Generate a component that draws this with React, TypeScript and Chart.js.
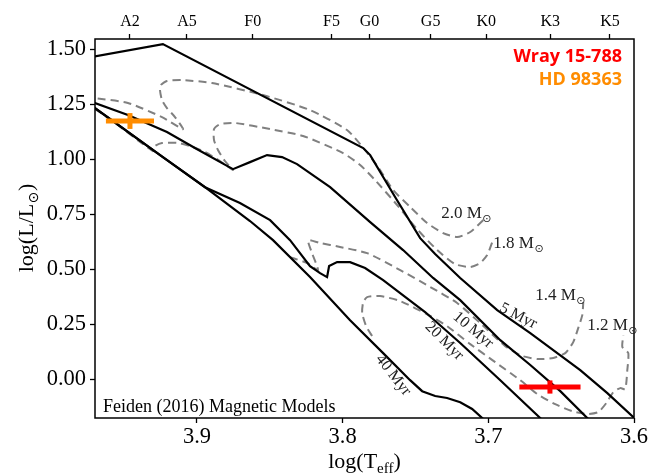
import React, { useEffect, useRef } from 'react';
import { Chart, registerables } from 'chart.js';

Chart.register(...registerables);

// ---------------- axes ----------------
const xMin = 3.6;
const xMax = 3.97;
const yMin = -0.177;
const yMax = 1.547;
const xTicks = [3.9, 3.8, 3.7, 3.6];
const yTicks = [0, 0.25, 0.5, 0.75, 1.0, 1.25, 1.5];
const spectralTypes = ['A2', 'A5', 'F0', 'F5', 'G0', 'G5', 'K0', 'K3', 'K5'];
const spectralLogTeff = [3.946, 3.9069, 3.8617, 3.8077, 3.7816, 3.7396, 3.7014, 3.6575, 3.6165];

// ---------------- isochrones (solid) ----------------
const iso5LogT = [3.977, 3.9234, 3.7859, 3.7811, 3.764, 3.7468, 3.7365, 3.7193, 3.6939, 3.6712, 3.6369, 3.6183, 3.5998, 3.5957];
const iso5LogL = [1.46, 1.524, 1.051, 1.019, 0.828, 0.641, 0.569, 0.46, 0.314, 0.209, 0.041, -0.064, -0.177, -0.2];

const iso10LogT = [3.977, 3.97, 3.9474, 3.9206, 3.9014, 3.8753, 3.8636, 3.8519, 3.8416, 3.8313, 3.8086, 3.7811, 3.7585, 3.7379, 3.7193, 3.6918, 3.6712, 3.6506, 3.6321, 3.6286];
const iso10LogL = [1.272, 1.256, 1.201, 1.124, 1.051, 0.955, 0.987, 1.019, 1.01, 0.978, 0.873, 0.714, 0.587, 0.46, 0.359, 0.177, 0.064, -0.055, -0.177, -0.2];

const iso20LogT = [3.977, 3.9234, 3.8945, 3.8705, 3.8498, 3.8361, 3.8224, 3.8155, 3.8107, 3.8093, 3.8038, 3.7949, 3.7846, 3.7722, 3.7434, 3.7193, 3.6918, 3.6644, 3.6609];
const iso20LogL = [1.266, 1.01, 0.873, 0.801, 0.723, 0.632, 0.514, 0.482, 0.464, 0.514, 0.532, 0.532, 0.505, 0.45, 0.305, 0.164, -0.005, -0.177, -0.2];

const iso40LogT = [3.977, 3.9234, 3.8945, 3.8636, 3.8478, 3.8224, 3.7949, 3.7722, 3.7537, 3.7454, 3.7365, 3.7283, 3.7193, 3.7111, 3.7042, 3.7008];
const iso40LogL = [1.266, 1.01, 0.873, 0.719, 0.632, 0.464, 0.268, 0.118, -0.005, -0.055, -0.077, -0.086, -0.105, -0.136, -0.177, -0.2];

// ---------------- mass tracks (dashed) ----------------
const trk20LogT = [3.977, 3.97, 3.9474, 3.924, 3.9096, 3.9151, 3.9206, 3.924, 3.9254, 3.9247, 3.9206, 3.9103, 3.8897, 3.8547, 3.8224, 3.797, 3.7846, 3.7757, 3.7653, 3.7537, 3.742, 3.731, 3.7214, 3.7124, 3.7028];
const trk20LogL = [1.283, 1.278, 1.256, 1.192, 1.137, 1.192, 1.233, 1.269, 1.315, 1.338, 1.356, 1.36, 1.347, 1.292, 1.224, 1.133, 1.042, 0.965, 0.86, 0.783, 0.71, 0.664, 0.646, 0.669, 0.728];

const trk18LogT = [3.97, 3.9598, 3.9302, 3.9289, 3.924, 3.9131, 3.9048, 3.8945, 3.8842, 3.8753, 3.8808, 3.8856, 3.8883, 3.8883, 3.8842, 3.8739, 3.8498, 3.8272, 3.7997, 3.788, 3.7777, 3.7626, 3.7489, 3.7351, 3.7228, 3.7124, 3.7056, 3.7008, 3.6973];
const trk18LogL = [1.228, 1.183, 1.037, 1.06, 1.074, 1.074, 1.06, 1.033, 0.992, 0.951, 0.992, 1.042, 1.087, 1.137, 1.16, 1.165, 1.137, 1.106, 1.028, 0.974, 0.905, 0.792, 0.682, 0.587, 0.523, 0.51, 0.528, 0.564, 0.623];

const trk14LogT = [3.8361, 3.8244, 3.8169, 3.821, 3.8237, 3.8155, 3.8018, 3.7832, 3.7605, 3.7399, 3.7214, 3.7056, 3.6884, 3.6767, 3.6657, 3.6554, 3.6472, 3.6417, 3.6383, 3.6355, 3.6348];
const trk14LogL = [0.555, 0.528, 0.496, 0.573, 0.632, 0.619, 0.601, 0.573, 0.496, 0.419, 0.346, 0.255, 0.15, 0.105, 0.091, 0.096, 0.118, 0.168, 0.232, 0.291, 0.35];

const trk12LogT = [3.7798, 3.7839, 3.7866, 3.7859, 3.7832, 3.7743, 3.7605, 3.7399, 3.7283, 3.7124, 3.6953, 3.6781, 3.6664, 3.6541, 3.6424, 3.6321, 3.6245, 3.619, 3.6142, 3.6094, 3.606, 3.6046, 3.6039, 3.608, 3.6073];
const trk12LogL = [0.196, 0.241, 0.3, 0.35, 0.373, 0.378, 0.355, 0.287, 0.241, 0.159, 0.077, -0.005, -0.068, -0.114, -0.146, -0.159, -0.15, -0.109, -0.059, -0.041, -0.046, 0.041, 0.118, 0.146, 0.2];

// ---------------- stars ----------------
const starNames = ['Wray 15-788', 'HD 98363'];
const starColors = ['#ff0000', '#ff8c00'];
const starLogT = [3.6577, 3.946];
const starLogL = [-0.036, 1.174];
const starErrT = [0.021, 0.0165];
const starErrL = [0.03, 0.036];

// ---------------- labels ----------------
const massLabels = ['2.0', '1.8', '1.4', '1.2'];
const massLabelLogT = [3.7324, 3.6966, 3.6678, 3.6321];
const massLabelLogL = [0.733, 0.596, 0.359, 0.223];
const ageLabels = ['5 Myr', '10 Myr', '20 Myr', '40 Myr'];
const ageLabelLogT = [3.6795, 3.7104, 3.7303, 3.7653];
const ageLabelLogL = [0.287, 0.223, 0.173, 0.018];
const ageLabelAngle = [27, 40, 45, 52];
const modelNote = 'Feiden (2016) Magnetic Models';

const SERIF = '"Liberation Serif", "DejaVu Serif", serif';
const SANS = '"Open Sans", "Noto Sans", "DejaVu Sans", sans-serif';

function pts(t: number[], l: number[]) {
  return t.map((v, i) => ({ x: v, y: l[i] }));
}

const annotPlugin = {
  id: 'annot',
  afterDraw(chart: any) {
    const { ctx, chartArea: a, scales } = chart;
    const xs = scales.x;
    const ys = scales.y;
    ctx.save();
    // frame
    ctx.strokeStyle = '#000';
    ctx.lineWidth = 1.5;
    ctx.strokeRect(a.left, a.top, a.right - a.left, a.bottom - a.top);

    ctx.fillStyle = '#222';
    ctx.textBaseline = 'alphabetic';
    // mass labels
    massLabels.forEach((m, i) => {
      const px = xs.getPixelForValue(massLabelLogT[i]);
      const py = ys.getPixelForValue(massLabelLogL[i]);
      ctx.font = `17px ${SERIF}`;
      ctx.textAlign = 'left';
      const t = m + ' M';
      ctx.fillText(t, px, py);
      const w = ctx.measureText(t).width;
      ctx.font = `11px "DejaVu Sans", sans-serif`;
      ctx.fillText('\u2299', px + w + 0.5, py + 4);
    });
    // age labels
    ageLabels.forEach((s, i) => {
      const px = xs.getPixelForValue(ageLabelLogT[i]);
      const py = ys.getPixelForValue(ageLabelLogL[i]);
      ctx.save();
      ctx.translate(px, py);
      ctx.rotate((ageLabelAngle[i] * Math.PI) / 180);
      ctx.font = `16px ${SERIF}`;
      ctx.textAlign = 'center';
      ctx.textBaseline = 'middle';
      ctx.fillText(s, 0, 0);
      ctx.restore();
    });
    // note
    ctx.fillStyle = '#000';
    ctx.font = `18px ${SERIF}`;
    ctx.textAlign = 'left';
    ctx.textBaseline = 'alphabetic';
    ctx.fillText(modelNote, a.left + 8, a.bottom - 6);
    // star names
    ctx.font = `bold 18px ${SANS}`;
    ctx.textAlign = 'right';
    starNames.forEach((n, i) => {
      ctx.fillStyle = starColors[i];
      ctx.fillText(n, a.right - 12, a.top + 23 + i * 23);
    });
    // x title
    ctx.fillStyle = '#000';
    ctx.textAlign = 'left';
    const big = `22px ${SERIF}`;
    const small = `15px ${SERIF}`;
    ctx.font = big;
    const w1 = ctx.measureText('log(T').width;
    const w3 = ctx.measureText(')').width;
    ctx.font = small;
    const w2 = ctx.measureText('eff').width;
    const tot = w1 + w2 + w3;
    const cx = (a.left + a.right) / 2 - 0;
    let x0 = cx - tot / 2;
    const by = 468;
    ctx.font = big;
    ctx.fillText('log(T', x0, by);
    ctx.font = small;
    ctx.fillText('eff', x0 + w1, by + 5);
    ctx.font = big;
    ctx.fillText(')', x0 + w1 + w2, by);
    // y title
    ctx.save();
    ctx.translate(33, (a.top + a.bottom) / 2);
    ctx.rotate(-Math.PI / 2);
    ctx.font = big;
    const v1 = ctx.measureText('log(L/L').width;
    const v3 = ctx.measureText(')').width;
    ctx.font = `14px "DejaVu Sans", sans-serif`;
    const v2 = ctx.measureText('\u2299').width;
    const vt = v1 + v2 + v3;
    let s0 = -vt / 2;
    ctx.font = big;
    ctx.fillText('log(L/L', s0, 0);
    ctx.font = `14px "DejaVu Sans", sans-serif`;
    ctx.fillText('\u2299', s0 + v1 + 0.5, 5);
    ctx.font = big;
    ctx.fillText(')', s0 + v1 + v2 + 1, 0);
    ctx.restore();
    ctx.restore();
  },
};

export default function App() {
  const ref = useRef<HTMLCanvasElement>(null);
  useEffect(() => {
    const canvas = ref.current;
    if (!canvas) return;
    const solid = (label: string, t: number[], l: number[]) => ({
      label, data: pts(t, l), showLine: true, borderColor: '#000', borderWidth: 2.2,
      pointRadius: 0, fill: false, tension: 0, clip: 0,
    });
    const dashed = (label: string, t: number[], l: number[]) => ({
      label, data: pts(t, l), showLine: true, borderColor: '#808080', borderWidth: 2,
      borderDash: [8, 5], pointRadius: 0, fill: false, tension: 0.2, clip: 0,
    });
    const bars: any[] = [];
    starNames.forEach((n, i) => {
      bars.push({
        label: n + ' x', data: [{ x: starLogT[i] - starErrT[i], y: starLogL[i] }, { x: starLogT[i] + starErrT[i], y: starLogL[i] }],
        showLine: true, borderColor: starColors[i], borderWidth: 5, borderCapStyle: 'butt', pointRadius: 0, clip: 0,
      });
      bars.push({
        label: n + ' y', data: [{ x: starLogT[i], y: starLogL[i] - starErrL[i] }, { x: starLogT[i], y: starLogL[i] + starErrL[i] }],
        showLine: true, borderColor: starColors[i], borderWidth: 5, borderCapStyle: 'butt', pointRadius: 0, clip: 0,
      });
    });
    const tickFont = { family: SERIF, size: 22.5 };
    const gridCfg = { display: true, drawOnChartArea: false, drawTicks: true, tickLength: 5, tickColor: '#000', tickWidth: 1.3 };
    const chart = new Chart(canvas, {
      type: 'scatter',
      data: {
        datasets: [
          ...bars,
          solid('5 Myr', iso5LogT, iso5LogL),
          solid('10 Myr', iso10LogT, iso10LogL),
          solid('20 Myr', iso20LogT, iso20LogL),
          solid('40 Myr', iso40LogT, iso40LogL),
          dashed('2.0', trk20LogT, trk20LogL),
          dashed('1.8', trk18LogT, trk18LogL),
          dashed('1.4', trk14LogT, trk14LogL),
          dashed('1.2', trk12LogT, trk12LogL),
        ] as any,
      },
      options: {
        animation: false,
        responsive: false,
        events: [],
        layout: { padding: { left: 0, right: 28, top: 0, bottom: 0 } },
        plugins: { legend: { display: false }, tooltip: { enabled: false } },
        scales: {
          x: {
            type: 'linear', position: 'bottom', min: xMin, max: xMax, reverse: true,
            afterBuildTicks: (s: any) => { s.ticks = xTicks.map((v) => ({ value: v })); },
            afterFit: (s: any) => { s.height = 57; },
            ticks: { font: tickFont, color: '#000', padding: 1, autoSkip: false, maxRotation: 0, minRotation: 0,
              callback: (v: any) => Number(v).toFixed(1) },
            grid: gridCfg, border: { display: false },
          },
          xTop: {
            type: 'linear', axis: 'x', position: 'top', min: xMin, max: xMax, reverse: true,
            afterBuildTicks: (s: any) => { s.ticks = spectralLogTeff.map((v) => ({ value: v })); },
            afterFit: (s: any) => { s.height = 39; },
            ticks: { font: { family: SERIF, size: 16 }, color: '#000', padding: 3, autoSkip: false, maxRotation: 0, minRotation: 0,
              callback: (_v: any, i: number) => spectralTypes[i] },
            grid: gridCfg, border: { display: false },
          },
          y: {
            type: 'linear', position: 'left', min: yMin, max: yMax,
            afterBuildTicks: (s: any) => { s.ticks = yTicks.map((v) => ({ value: v })); },
            afterFit: (s: any) => { s.width = 95; },
            ticks: { font: tickFont, color: '#000', padding: 4, autoSkip: false,
              callback: (v: any) => Number(v).toFixed(2) },
            grid: gridCfg, border: { display: false },
          },
        },
      } as any,
      plugins: [annotPlugin],
    });
    return () => chart.destroy();
  }, []);
  return (
    <div style={{ position: 'absolute', left: 0, top: 0, width: 662, height: 475, background: '#fff' }}>
      <canvas ref={ref} width={662} height={475} />
    </div>
  );
}
